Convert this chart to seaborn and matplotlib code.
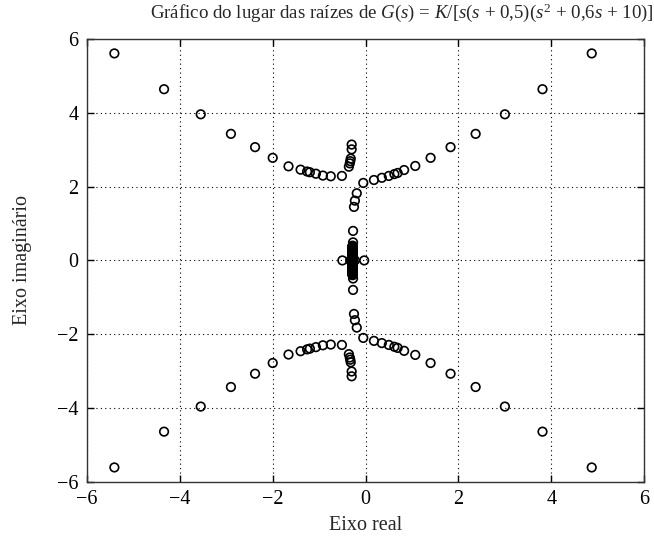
import pandas as pd
import numpy as np
from matplotlib import pyplot as plt
import seaborn as sns

# upper half of the locus (roots); lower half is the conjugate
far_left_re = [-5.41, -4.34, -3.55, -2.90, -2.38, -2.00, -1.66, -1.40, -1.26, -1.20, -1.07, -0.92, -0.75, -0.51]
far_left_im = [5.61, 4.64, 3.96, 3.43, 3.07, 2.78, 2.55, 2.46, 2.41, 2.39, 2.35, 2.30, 2.28, 2.29]

pole_branch_re = [-0.36, -0.34, -0.33, -0.32, -0.30, -0.30]
pole_branch_im = [2.54, 2.63, 2.69, 2.76, 3.01, 3.14]

far_right_re = [-0.05, 0.18, 0.35, 0.50, 0.62, 0.69, 0.83, 1.07, 1.40, 1.83, 2.37, 3.00, 3.81, 4.87]
far_right_im = [2.10, 2.18, 2.24, 2.29, 2.34, 2.37, 2.45, 2.56, 2.78, 3.07, 3.43, 3.96, 4.64, 5.61]

inner_re = [-0.19, -0.23, -0.25, -0.27, -0.27]
inner_im = [1.82, 1.62, 1.45, 0.80, 0.49]

# dense cluster of roots right after the break-away point (drawn as a solid bar)
cluster_im = [0.40, 0.39, 0.38, 0.37, 0.36, 0.35, 0.34, 0.33, 0.32, 0.31, 0.30,
              0.29, 0.28, 0.27, 0.26, 0.25, 0.24, 0.23, 0.22, 0.21, 0.20,
              0.19, 0.18, 0.17, 0.16, 0.15, 0.14, 0.13, 0.12, 0.11, 0.10,
              0.09, 0.08, 0.07, 0.06, 0.05, 0.04, 0.03, 0.02, 0.01, 0.005]
cluster_re = [-0.28] * len(cluster_im)

real_axis_re = [-0.50, -0.33, -0.23, -0.03]
real_axis_im = [0.0, 0.0, 0.0, 0.0]

xticks = [-6, -4, -2, 0, 2, 4, 6]
yticks = [-6, -4, -2, 0, 2, 4, 6]
ticklabels = ['\u22126', '\u22124', '\u22122', '0', '2', '4', '6']

re_up = far_left_re + pole_branch_re + far_right_re + inner_re + cluster_re
im_up = far_left_im + pole_branch_im + far_right_im + inner_im + cluster_im
df = pd.DataFrame({
    're': re_up + re_up + real_axis_re,
    'im': im_up + [-v for v in im_up] + real_axis_im,
})

sns.set_style("ticks")
plt.rcParams['font.family'] = ['Liberation Serif', 'DejaVu Serif']
plt.rcParams['mathtext.fontset'] = 'custom'
plt.rcParams['mathtext.rm'] = 'Liberation Serif'
plt.rcParams['mathtext.it'] = 'Liberation Serif:italic'

fig = plt.figure(figsize=(6.54, 5.42), dpi=100)
ax = fig.add_axes([0.133, 0.111, 0.852, 0.817])

sns.scatterplot(data=df, x='re', y='im', ax=ax, marker='o', s=38,
                facecolor='none', edgecolor='black', linewidth=1.2, legend=False)

ax.set_xlim(-6, 6)
ax.set_ylim(-6, 6)
ax.set_xticks(xticks)
ax.set_yticks(yticks)
ax.set_xticklabels(ticklabels)
ax.set_yticklabels(ticklabels)
ax.grid(True, linestyle=(0, (1, 3)), color='black', linewidth=0.8)
ax.tick_params(direction='in', length=5, width=1, top=True, right=True,
               labelsize=14.5, colors='black', pad=6)
for sp in ax.spines.values():
    sp.set_linewidth(1.0)
    sp.set_color('#333333')

ax.set_xlabel('Eixo real', fontsize=14.5, labelpad=5)
ax.set_ylabel('Eixo imaginário', fontsize=14.5, labelpad=18)
fig.text(0.615, 0.976,
         r'Gráfico do lugar das raízes de $G$($s$) = $K$/[$s$($s$ + 0,5)($s^2$ + 0,6$s$ + 10)]',
         ha='center', va='center', fontsize=13.6)

plt.savefig('out.png', dpi=100)
